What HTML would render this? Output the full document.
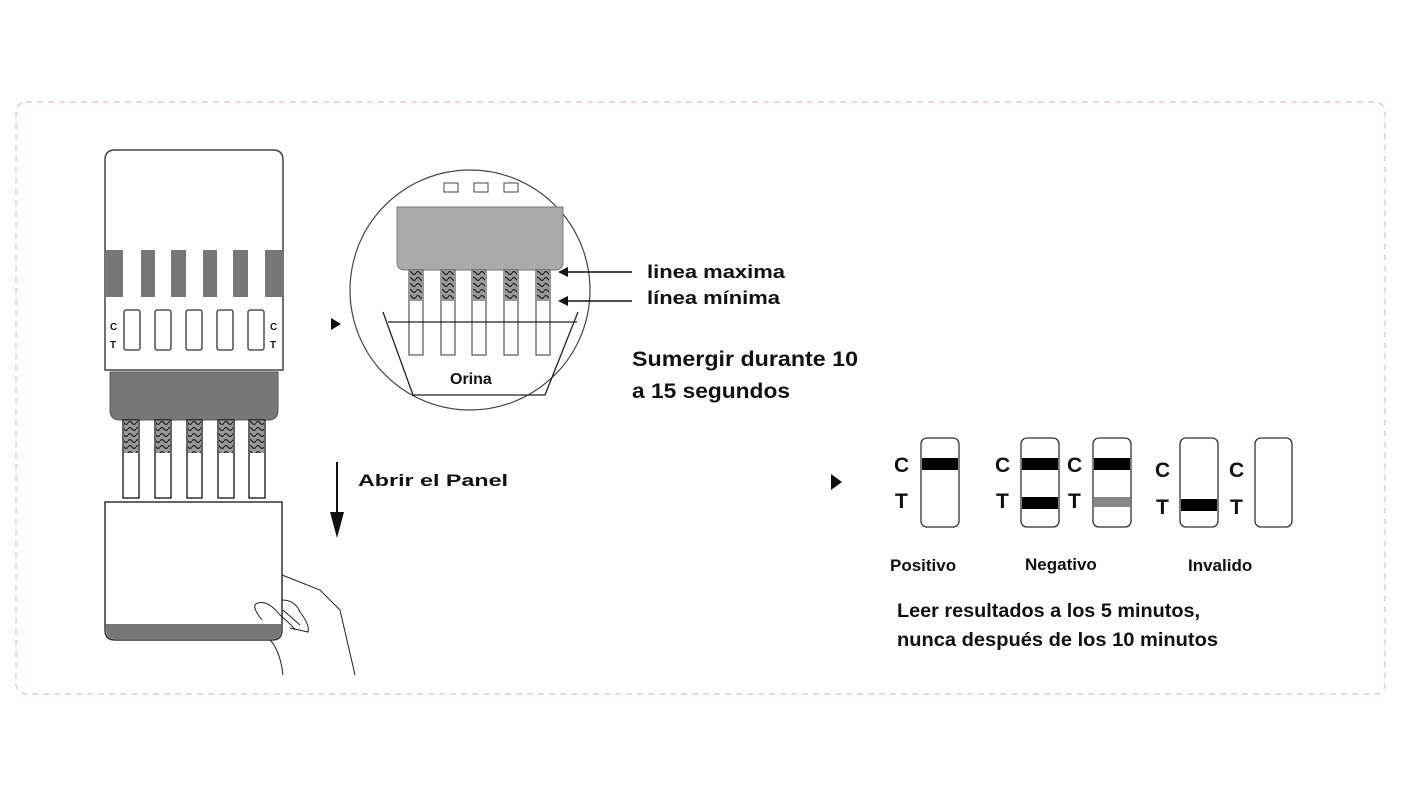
<!DOCTYPE html>
<html><head><meta charset="utf-8"><style>
html,body{margin:0;padding:0;background:#fff;}
svg{display:block;}
text{font-family:"Liberation Sans",sans-serif;font-weight:bold;fill:#111;}
</style></head><body>
<svg width="1401" height="800" viewBox="0 0 1401 800" xmlns="http://www.w3.org/2000/svg">
<defs>
<pattern id="wv" width="8" height="6" patternUnits="userSpaceOnUse">
<rect width="8" height="6" fill="#999"/>
<path d="M0 3 Q2 0 4 3 T8 3" stroke="#222" fill="none" stroke-width="1.2"/>
</pattern>
</defs>
<rect x="16" y="102" width="1369" height="592" rx="10" fill="none" stroke="#f3c6cc" stroke-width="1.5" stroke-dasharray="6,5"/>

<!-- left device -->
<path d="M105 160 Q105 150 115 150 L273 150 Q283 150 283 160 L283 370 L105 370 Z" fill="#fff" stroke="#444" stroke-width="1.5"/>
<g fill="#777">
<rect x="105" y="250" width="18" height="47"/><rect x="141" y="250" width="14" height="47"/><rect x="171" y="250" width="15" height="47"/><rect x="203" y="250" width="14" height="47"/><rect x="233" y="250" width="15" height="47"/><rect x="265" y="250" width="18" height="47"/>
</g>
<g fill="#fff" stroke="#333" stroke-width="1.3">
<rect x="124" y="310" width="16" height="40" rx="2"/><rect x="155" y="310" width="16" height="40" rx="2"/><rect x="186" y="310" width="16" height="40" rx="2"/><rect x="217" y="310" width="16" height="40" rx="2"/><rect x="248" y="310" width="16" height="40" rx="2"/>
</g>
<text x="110" y="330" font-size="10">C</text><text x="110" y="348" font-size="10">T</text>
<text x="270" y="330" font-size="10">C</text><text x="270" y="348" font-size="10">T</text>
<path d="M110 372 L278 372 L278 410 Q278 420 268 420 L120 420 Q110 420 110 410 Z" fill="#777" stroke="#555"/>
<g stroke="#111" stroke-width="1.3" fill="#fff">
<rect x="123" y="420" width="16" height="78"/><rect x="155" y="420" width="16" height="78"/><rect x="187" y="420" width="15" height="78"/><rect x="218" y="420" width="16" height="78"/><rect x="249" y="420" width="16" height="78"/>
</g>
<g fill="url(#wv)">
<rect x="124" y="421" width="14" height="32"/><rect x="156" y="421" width="14" height="32"/><rect x="188" y="421" width="13" height="32"/><rect x="219" y="421" width="14" height="32"/><rect x="250" y="421" width="14" height="32"/>
</g>
<path d="M105 502 L282 502 L282 630 Q282 640 272 640 L115 640 Q105 640 105 630 Z" fill="#fff" stroke="#333" stroke-width="1.5"/>
<path d="M106 624 L281 624 L281 630 Q281 639 272 639 L115 639 Q106 639 106 630 Z" fill="#777"/>
<!-- hand -->
<g fill="none" stroke="#222" stroke-width="1">
<path d="M282 575 L320 590 L340 610 L355 675"/>
<path d="M282 600 Q295 600 300 612 Q310 625 308 632 L290 628"/>
<path d="M283 610 L300 625"/>
<path d="M262 620 Q250 605 258 603 Q268 600 280 615 Q292 625 295 630"/>
<path d="M270 640 Q280 650 283 675"/>
</g>
<polygon points="331,318 331,330 341,324" fill="#111"/>
<line x1="337" y1="462" x2="337" y2="515" stroke="#111" stroke-width="2"/>
<polygon points="330,512 344,512 337,538" fill="#111"/>
<text x="358" y="486" font-size="17" textLength="150" lengthAdjust="spacingAndGlyphs">Abrir el Panel</text>

<!-- circle -->
<circle cx="470" cy="290" r="120" fill="#fff" stroke="#444" stroke-width="1.2"/>
<g fill="#fff" stroke="#444"><rect x="444" y="183" width="14" height="9"/><rect x="474" y="183" width="14" height="9"/><rect x="504" y="183" width="14" height="9"/></g>
<path d="M397 207 L563 207 L563 262 Q563 270 555 270 L405 270 Q397 270 397 262 Z" fill="#aaa" stroke="#777"/>
<g stroke="#555" stroke-width="1.2" fill="#fff">
<rect x="409" y="270" width="14" height="85"/><rect x="441" y="270" width="14" height="85"/><rect x="472" y="270" width="14" height="85"/><rect x="504" y="270" width="14" height="85"/><rect x="536" y="270" width="14" height="85"/>
</g>
<g fill="url(#wv)"><rect x="410" y="271" width="12" height="30"/><rect x="442" y="271" width="12" height="30"/><rect x="473" y="271" width="12" height="30"/><rect x="505" y="271" width="12" height="30"/><rect x="537" y="271" width="12" height="30"/></g>
<g stroke="#222" stroke-width="1.3" fill="none">
<line x1="388" y1="322" x2="577" y2="322"/>
<polyline points="383,312 413,395 545,395 578,312"/>
</g>
<text x="450" y="384" font-size="16" fill="#222">Orina</text>
<g stroke="#111" stroke-width="1.5"><line x1="566" y1="272" x2="632" y2="272"/><line x1="566" y1="301" x2="632" y2="301"/></g>
<polygon points="558,272 568,267 568,277" fill="#111"/><polygon points="558,301 568,296 568,306" fill="#111"/>
<text x="647" y="278" font-size="18" textLength="138" lengthAdjust="spacingAndGlyphs">linea maxima</text>
<text x="647" y="304" font-size="18" textLength="133" lengthAdjust="spacingAndGlyphs">línea mínima</text>
<text x="632" y="366" font-size="21" textLength="226" lengthAdjust="spacingAndGlyphs">Sumergir durante 10</text>
<text x="632" y="398" font-size="21" textLength="158" lengthAdjust="spacingAndGlyphs">a 15 segundos</text>

<!-- results -->
<polygon points="831,474 831,490 842,482" fill="#111"/>
<g fill="#fff" stroke="#333" stroke-width="1.3">
<rect x="921" y="438" width="38" height="89" rx="6"/>
<rect x="1021" y="438" width="38" height="89" rx="6"/>
<rect x="1093" y="438" width="38" height="89" rx="6"/>
<rect x="1180" y="438" width="38" height="89" rx="6"/>
<rect x="1255" y="438" width="37" height="89" rx="6"/>
</g>
<g fill="#000">
<rect x="922" y="458" width="36" height="12"/>
<rect x="1022" y="458" width="36" height="12"/><rect x="1022" y="497" width="36" height="12"/>
<rect x="1094" y="458" width="36" height="12"/>
<rect x="1181" y="499" width="36" height="12"/>
</g>
<rect x="1094" y="497" width="36" height="10" fill="#888"/>
<g font-size="21">
<text x="894" y="472">C</text><text x="895" y="508">T</text>
<text x="995" y="472">C</text><text x="996" y="508">T</text>
<text x="1067" y="472">C</text><text x="1068" y="508">T</text>
<text x="1155" y="477">C</text><text x="1156" y="514">T</text>
<text x="1229" y="477">C</text><text x="1230" y="514">T</text>
</g>
<text x="890" y="571" font-size="17" fill="#222">Positivo</text>
<text x="1025" y="570" font-size="17" fill="#222">Negativo</text>
<text x="1188" y="571" font-size="17" fill="#222">Invalido</text>
<text x="897" y="617" font-size="19" textLength="303" lengthAdjust="spacingAndGlyphs">Leer resultados a los 5 minutos,</text>
<text x="897" y="646" font-size="19" textLength="321" lengthAdjust="spacingAndGlyphs">nunca después de los 10 minutos</text>
</svg>
</body></html>
